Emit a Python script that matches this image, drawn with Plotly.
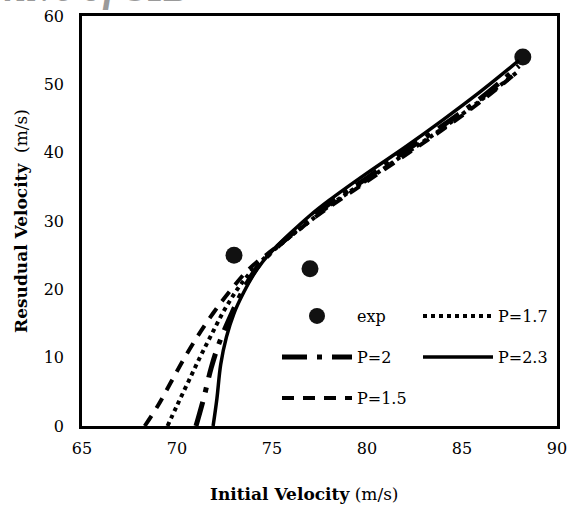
import plotly.graph_objects as go

# experimental data
exp_x = [73.0, 77.0, 88.2]
exp_y = [25.0, 23.0, 54.0]

# model curves
p23_x = [71.9, 72.1, 72.3, 72.6, 73.0, 73.5, 74.0, 74.5, 75.0, 76.0, 77.0, 78.0, 80.0, 82.0, 84.0, 86.0, 88.0]
p23_y = [0.0, 4.0, 9.0, 13.0, 16.5, 19.5, 22.0, 24.0, 25.6, 28.3, 30.8, 33.0, 37.0, 40.8, 44.8, 49.0, 53.5]

p20_x = [71.0, 71.4, 71.8, 72.2, 72.8, 73.5, 74.3, 75.0, 76.0, 77.0, 78.0, 80.0, 82.0, 84.0, 86.0, 88.0]
p20_y = [0.0, 4.0, 8.5, 12.0, 16.0, 20.0, 23.5, 25.5, 28.0, 30.3, 32.5, 36.3, 40.2, 44.0, 48.0, 52.7]

p17_x = [69.5, 70.0, 70.6, 71.2, 71.8, 72.5, 73.3, 74.2, 75.0, 76.0, 77.0, 78.0, 80.0, 82.0, 84.0, 86.0, 88.0]
p17_y = [0.0, 3.0, 6.5, 10.0, 13.3, 17.0, 20.5, 23.5, 25.5, 27.8, 30.0, 32.2, 36.0, 39.8, 43.6, 47.7, 52.0]

p15_x = [68.3, 69.0, 69.7, 70.4, 71.1, 71.9, 72.8, 73.8, 75.0, 76.0, 77.0, 78.0, 80.0, 82.0, 84.0, 86.0, 88.0]
p15_y = [0.0, 3.0, 6.5, 10.0, 13.2, 16.5, 19.8, 23.0, 25.7, 27.8, 30.0, 32.0, 35.8, 39.6, 43.4, 47.5, 52.0]

x_ticks = [65, 70, 75, 80, 85, 90]
y_ticks = [0, 10, 20, 30, 40, 50, 60]

FONT = "DejaVu Serif"

fig = go.Figure()
fig.add_trace(go.Scatter(x=exp_x, y=exp_y, mode="markers", name="exp", showlegend=True,
                         marker=dict(color="#111111", size=17), legend="legend"))
fig.add_trace(go.Scatter(x=p15_x, y=p15_y, mode="lines", name="P=1.5", showlegend=True,
                         line=dict(color="black", width=4, dash="12px,9px", shape="spline"), legend="legend5"))
fig.add_trace(go.Scatter(x=p17_x, y=p17_y, mode="lines", name="P=1.7", showlegend=True,
                         line=dict(color="black", width=4, dash="dot", shape="spline"), legend="legend2"))
fig.add_trace(go.Scatter(x=p20_x, y=p20_y, mode="lines", name="P=2", showlegend=True,
                         line=dict(color="black", width=5, dash="longdashdot", shape="spline"), legend="legend3"))
fig.add_trace(go.Scatter(x=p23_x, y=p23_y, mode="lines", name="P=2.3", showlegend=True,
                         line=dict(color="black", width=3.5, shape="spline"), legend="legend4"))

W, H = 573, 510
L, R, T, B = 82, 16, 16, 84
pw, ph = W - L - R, H - T - B

def px2paper(px, py):
    return (px - L) / pw, (H - B - py) / ph

def leg(px, py):
    x, y = px2paper(px, py)
    return dict(x=x, y=y, xanchor="left", yanchor="middle", bgcolor="rgba(0,0,0,0)",
                font=dict(family=FONT, size=16, color="black"), itemwidth=70, visible=True)

fig.update_layout(
    width=W, height=H,
    showlegend=True,
    margin=dict(l=L, r=R, t=T, b=B, autoexpand=False),
    plot_bgcolor="white", paper_bgcolor="white",
    font=dict(family=FONT, size=16, color="black"),
    legend=leg(277, 316),
    legend2=leg(418, 316),
    legend3=leg(277, 357),
    legend4=leg(418, 357),
    legend5=leg(277, 398),
    xaxis=dict(range=[65, 90], tickvals=x_ticks, showgrid=False, zeroline=False,
               showline=True, linecolor="black", linewidth=2.5, mirror=True, ticks="",
               ticklabelstandoff=6),
    yaxis=dict(range=[0, 60], tickvals=y_ticks, showgrid=False, zeroline=False,
               showline=True, linecolor="black", linewidth=2.5, mirror=True, ticks="",
               ticklabelstandoff=12,
               title=dict(text="<b>Resudual Velocity</b>  (m/s)", font=dict(size=17), standoff=12)),
)

# x-axis title (slightly left of centre, as in the reference)
tx, ty = px2paper(304, 494)
fig.add_annotation(text="<b>Initial Velocity</b> (m/s)", xref="paper", yref="paper",
                   x=tx, y=ty, xanchor="center", yanchor="middle", showarrow=False,
                   font=dict(family=FONT, size=17, color="black"))

fig.add_annotation(text="<i><b>Archive of SID</b></i>", xref="paper", yref="paper",
                   x=(195 - L) / pw, y=(H - B - 12) / ph, xanchor="right", yanchor="bottom",
                   showarrow=False, font=dict(family="Liberation Serif", size=40, color="#9a9a9a"))

fig.write_html("out.html")
